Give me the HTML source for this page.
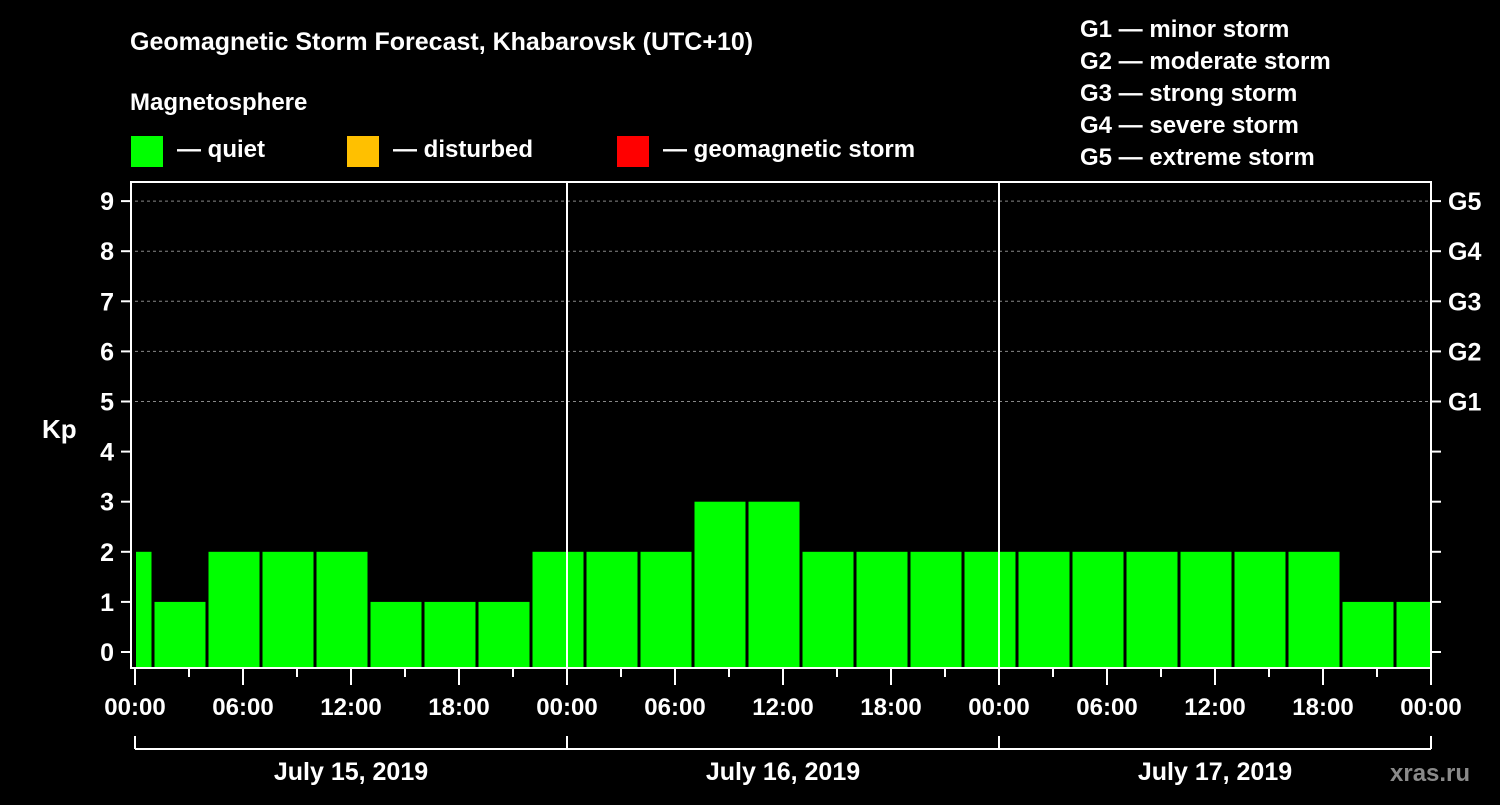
<!DOCTYPE html>
<html><head><meta charset="utf-8"><style>
body{margin:0;background:#000;width:1500px;height:800px;overflow:hidden}
svg text{font-family:"Liberation Sans",Arial,sans-serif;font-weight:bold;fill:#fff}
</style></head><body>
<svg width="1500" height="800">
<text x="130" y="50" font-size="25">Geomagnetic Storm Forecast, Khabarovsk (UTC+10)</text>
<text x="130" y="110" font-size="24">Magnetosphere</text>
<g><rect x="131" y="136" width="32" height="31" fill="#00ff00"/><text x="177" y="157" font-size="24">— quiet</text></g>
<g><rect x="347" y="136" width="32" height="31" fill="#ffc000"/><text x="393" y="157" font-size="24">— disturbed</text></g>
<g><rect x="617" y="136" width="32" height="31" fill="#ff0000"/><text x="663" y="157" font-size="24">— geomagnetic storm</text></g>
<g font-size="24">
<text x="1080" y="37">G1 — minor storm</text><text x="1080" y="69">G2 — moderate storm</text><text x="1080" y="101">G3 — strong storm</text><text x="1080" y="133">G4 — severe storm</text><text x="1080" y="165">G5 — extreme storm</text></g>
<text x="42" y="438" font-size="26">Kp</text>
<text x="1390" y="781" font-size="24" fill="#888" style="fill:#8a8a8a">xras.ru</text>
<g id="plot"></g>
</svg>
<script>
const kpValues=[2,1,2,2,2,1,1,1,2,2,2,3,3,2,2,2,2,2,2,2,2,2,2,1,1];
const yTicks=[0,1,2,3,4,5,6,7,8,9];
const gLabels=[[5,"G1"],[6,"G2"],[7,"G3"],[8,"G4"],[9,"G5"]];
const timeLabels=["00:00","06:00","12:00","18:00","00:00","06:00","12:00","18:00","00:00","06:00","12:00","18:00","00:00"];
const dayLabels=["July 15, 2019","July 16, 2019","July 17, 2019"];
const X0=135,X1=1431,HOUR=(X1-X0)/72,YTOP=182,YBOT=668;
const y=v=>652-v*50.1;
const x=h=>X0+h*HOUR;
const g=document.getElementById('plot');const NS="http://www.w3.org/2000/svg";
function mk(t,a,txt){const e=document.createElementNS(NS,t);for(const k in a)e.setAttribute(k,a[k]);if(txt!=null)e.textContent=txt;g.appendChild(e);return e;}
// grid
yTicks.forEach(v=>{if(v>=5){const l=mk('line',{x1:X0,x2:X1,y1:y(v),y2:y(v),stroke:'#888','stroke-dasharray':'3,3','stroke-width':1});

}});
// bars: intervals start at 01:00 offset with 3h bins, index 0 starts at -2h
kpValues.forEach((v,i)=>{const h0=-2+i*3;let a=x(h0)+1.5,b=x(h0+3)-1.5;a=Math.max(a,X0+1);b=Math.min(b,X1-1);
const c=v>=5?'#ff0000':(v>=4?'#ffc000':'#00ff00');
const r=mk('rect',{x:a,y:y(v),width:b-a,height:YBOT-y(v),fill:c});

});
// frame
mk('rect',{x:131,y:YTOP,width:X1-131,height:YBOT-YTOP,fill:'none',stroke:'#fff','stroke-width':2});
[1,2].forEach(d=>mk('line',{x1:x(d*24),x2:x(d*24),y1:YTOP,y2:YBOT,stroke:'#fff','stroke-width':2}));
yTicks.forEach(v=>{mk('line',{x1:121,x2:131,y1:y(v),y2:y(v),stroke:'#fff','stroke-width':2});
mk('line',{x1:X1,x2:X1+10,y1:y(v),y2:y(v),stroke:'#fff','stroke-width':2});
const t=mk('text',{x:114,y:y(v)+9,'font-size':25,'text-anchor':'end'},String(v));

});
gLabels.forEach(([v,s])=>{const t=mk('text',{x:1448,y:y(v)+9,'font-size':25},s);

});
for(let h=0;h<=72;h+=3){mk('line',{x1:x(h),x2:x(h),y1:YBOT,y2:h%6==0?685:677,stroke:'#fff','stroke-width':2});}
timeLabels.forEach((s,i)=>{const t=mk('text',{x:x(i*6),y:715,'font-size':24,'text-anchor':'middle'},s);

});
mk('line',{x1:X0,x2:X1,y1:749,y2:749,stroke:'#fff','stroke-width':2});
for(let d=0;d<=3;d++)mk('line',{x1:x(d*24),x2:x(d*24),y1:736,y2:749,stroke:'#fff','stroke-width':2});
dayLabels.forEach((s,i)=>{const t=mk('text',{x:x(i*24+12),y:780,'font-size':25,'text-anchor':'middle'},s);

});
</script>
</body></html>
